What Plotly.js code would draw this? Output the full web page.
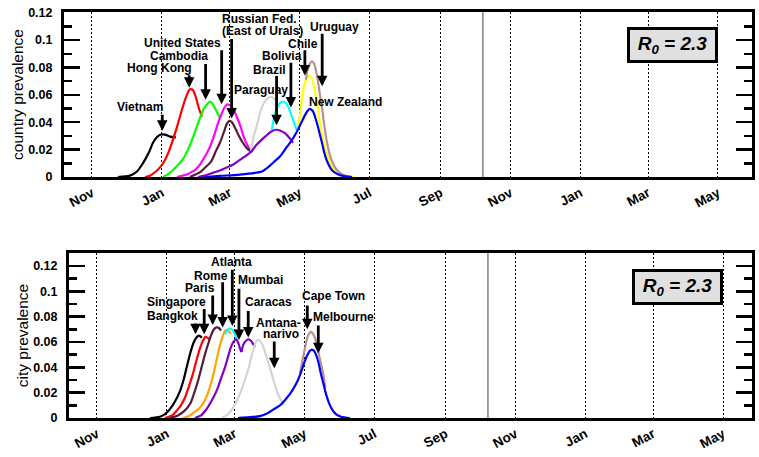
<!DOCTYPE html>
<html><head><meta charset="utf-8">
<script src="https://cdn.plot.ly/plotly-3.0.1.min.js"></script>
<style>html,body{margin:0;padding:0;background:#fff}#chart{width:759px;height:457px}</style>
</head><body><div id="chart"></div>
<script>
// x values are days since 1 Jan 2009, y values are prevalence
// ---- country prevalence (top panel) ----
const vietnamDays = [-38.4,-27.9,-21.8,-16.6,-11.3,-7.8,-4.4,-0.9,2.6,7.0,12.2];
const vietnamPrev = [0,0.001,0.004,0.010,0.018,0.025,0.029,0.031,0.031,0.0295,0.029];
const hongKongDays = [-14.8,-10.5,-5.2,-1.7,1.7,5.2,8.7,12.2,15.7,19.2,21.8,24.4,27.0,29.7,32.3,34.9];
const hongKongPrev = [0,0.001,0.004,0.007,0.011,0.017,0.025,0.034,0.044,0.054,0.060,0.064,0.0635,0.058,0.050,0.044];
const cambodiaDays = [0.9,7.0,13.1,18.3,22.7,26.2,29.7,33.1,36.6,39.2,41.9,44.5,47.1,50.6];
const cambodiaPrev = [0,0.003,0.008,0.013,0.020,0.027,0.035,0.043,0.050,0.053,0.055,0.053,0.049,0.043];
const usDays = [13.1,20.1,24.4,28.8,33.1,37.5,41.9,45.4,48.8,51.5,54.1,56.7,58.4,61.1,63.7,66.3,68.9,71.5,74.1,76.8,78.5];
const usPrev = [0,0.0015,0.003,0.005,0.009,0.015,0.022,0.030,0.039,0.045,0.050,0.053,0.0528,0.051,0.047,0.042,0.036,0.029,0.024,0.020,0.018];
const russiaDays = [24.4,29.7,34.0,38.4,42.7,47.1,50.6,54.1,56.7,58.9,61.1,63.7,67.2,70.6,74.1,78.5];
const russiaPrev = [0,0.002,0.004,0.0075,0.011,0.019,0.025,0.033,0.039,0.041,0.040,0.036,0.030,0.025,0.021,0.018];
const paraguayDays = [77.6,80.2,82.9,86.3,89.8,93.3,95.9,98.6];
const paraguayPrev = [0.019,0.030,0.038,0.049,0.055,0.058,0.0585,0.056];
const boliviaDays = [95.9,97.7,100.3,102.9,105.5,108.2,110.8,113.4,116.0,117.7];
const boliviaPrev = [0.034,0.043,0.050,0.054,0.055,0.054,0.050,0.044,0.038,0.034];
const brazilDays = [31.4,37.5,44.5,50.6,56.7,61.9,68.0,74.1,78.5,82.0,85.5,90.7,95.1,99.4,102.9,107.3,110.8,114.3];
const brazilPrev = [0,0.001,0.003,0.0048,0.007,0.009,0.0125,0.016,0.019,0.023,0.026,0.030,0.033,0.0345,0.034,0.032,0.029,0.025];
const chileDays = [118.6,120.4,122.1,123.9,125.6,127.3,129.1,130.8,132.6,134.3,136.1,137.8,139.6,141.3,143.0,144.8,147.4,150.9,155.3,161.4,168.3];
const chilePrev = [0.036,0.045,0.057,0.066,0.071,0.0735,0.074,0.072,0.066,0.059,0.050,0.039,0.031,0.024,0.018,0.0145,0.009,0.005,0.002,0.0006,0];
const uruguayDays = [125.6,127.3,129.1,130.8,132.6,134.3,136.1,137.8,139.6,141.3,143.0,144.8,146.5,149.1,151.8,155.3,159.6,165.7];
const uruguayPrev = [0.071,0.079,0.083,0.0845,0.083,0.078,0.070,0.060,0.051,0.040,0.030,0.022,0.016,0.010,0.006,0.003,0.001,0];
const newZealandDays = [37.5,50.6,68.0,81.1,87.2,92.5,97.7,102.9,109.0,113.4,117.7,121.2,124.7,127.3,129.1,131.7,134.3,136.9,139.6,142.2,144.8,148.3,153.5,159.6,165.7];
const newZealandPrev = [0,0.0008,0.0018,0.003,0.004,0.007,0.011,0.015,0.022,0.027,0.033,0.039,0.045,0.0485,0.0497,0.048,0.042,0.034,0.025,0.016,0.010,0.005,0.002,0.0005,0];

// ---- city prevalence (bottom panel) ----
const bangkokDays = [-14.8,-6.1,-1.7,2.6,7.0,11.3,14.8,18.3,20.9,23.5,26.2,27.9,30.5];
const bangkokPrev = [0,0.001,0.003,0.007,0.013,0.021,0.031,0.044,0.053,0.060,0.064,0.065,0.0635];
const singaporeDays = [-1.7,4.4,8.7,12.2,15.7,19.2,22.7,26.2,28.8,31.4,33.6,35.8,37.5];
const singaporePrev = [0,0.002,0.006,0.010,0.016,0.025,0.035,0.047,0.055,0.061,0.064,0.063,0.062];
const parisDays = [2.6,9.6,15.7,20.1,23.5,27.0,30.5,33.1,35.8,38.4,41.0,43.2,45.4,47.1];
const parisPrev = [0,0.002,0.006,0.011,0.019,0.029,0.041,0.050,0.058,0.065,0.070,0.0715,0.071,0.069];
const romeDays = [14.0,20.1,24.4,28.8,33.1,36.6,40.1,43.6,46.2,48.8,51.5,53.6,55.8];
const romePrev = [0,0.002,0.005,0.008,0.014,0.022,0.033,0.047,0.057,0.065,0.0694,0.069,0.0665];
const atlantaDays = [50.6,52.3,54.1,55.8,57.6,59.3,61.1];
const atlantaPrev = [0.066,0.069,0.0705,0.0705,0.069,0.066,0.061];
const mumbaiDays = [24.4,29.7,34.9,39.2,43.6,47.1,50.6,53.2,55.8,58.0,60.2,61.9,63.7,65.0];
const mumbaiPrev = [0,0.002,0.0075,0.014,0.022,0.031,0.040,0.048,0.056,0.060,0.062,0.060,0.055,0.052];
const caracasDays = [65.0,66.7,68.9,71.1,73.3,75.4,76.8];
const caracasPrev = [0.052,0.058,0.061,0.062,0.061,0.058,0.056];
const antananarivoDays = [48.0,53.2,57.6,61.1,64.5,68.0,71.5,74.1,76.8,78.9,81.1,83.7,86.3,89.0,91.6,94.2,96.8,99.4,102.0];
const antananarivoPrev = [0,0.003,0.008,0.014,0.021,0.030,0.040,0.050,0.058,0.0615,0.061,0.057,0.050,0.042,0.034,0.026,0.019,0.014,0.010];
const capeTownDays = [116.0,117.7,120.4,123.0,125.6,127.3,129.1,130.8,132.6,134.3,136.1,138.2];
const capeTownPrev = [0.035,0.043,0.055,0.065,0.068,0.0665,0.063,0.057,0.050,0.043,0.036,0.024];
const melbourneDays = [61.9,72.4,81.1,88.1,93.3,98.6,102.9,107.3,110.8,114.3,116.9,119.5,122.1,124.7,126.5,128.2,130.0,132.1,134.3,136.5,138.7,141.3,143.9,147.4,151.8,159.6];
const melbournePrev = [0,0.0007,0.0015,0.004,0.007,0.010,0.014,0.019,0.024,0.030,0.036,0.043,0.049,0.053,0.054,0.053,0.050,0.044,0.035,0.027,0.019,0.012,0.007,0.003,0.001,0];

// ---- axis ticks ----
const monthTicks = ['2008-11-01','2009-01-01','2009-03-01','2009-05-01','2009-07-01','2009-09-01','2009-11-01','2010-01-01','2010-03-01','2010-05-01'];
const monthLabels = ['Nov','Jan','Mar','May','Jul','Sep','Nov','Jan','Mar','May'];
const yearMarker = '2009-10-08';
const r0Text = '<b><i>R<sub>0</sub> = 2.3</i></b>';

const BASE = Date.UTC(2009,0,1);
function toDate(d){ return new Date(BASE + d*86400000).toISOString().slice(0,16).replace('T',' '); }

const LW = 2.2;
function line(days, prev, color, xa, ya, name){
  return {type:'scatter', mode:'lines', name:name, x:days.map(toDate), y:prev,
    xaxis:xa, yaxis:ya, line:{color:color, width:LW, shape:'spline', smoothing:0.8}, hoverinfo:'skip'};
}
const PURPLE = '#8000c8', MAROON = '#561a3c', GRAY = '#d4d4d4', ROSY = '#bc8f8f';
const traces = [
  line(vietnamDays, vietnamPrev, '#000000','x','y','Vietnam'),
  line(hongKongDays, hongKongPrev, '#ff0000','x','y','Hong Kong'),
  line(cambodiaDays, cambodiaPrev, '#00ff00','x','y','Cambodia'),
  line(usDays, usPrev, '#ff00ff','x','y','United States'),
  line(russiaDays, russiaPrev, MAROON,'x','y','Russian Fed.'),
  line(paraguayDays, paraguayPrev, GRAY,'x','y','Paraguay'),
  line(boliviaDays, boliviaPrev, '#00ffff','x','y','Bolivia'),
  line(brazilDays, brazilPrev, PURPLE,'x','y','Brazil'),
  line(chileDays, chilePrev, '#ffff00','x','y','Chile'),
  line(uruguayDays, uruguayPrev, ROSY,'x','y','Uruguay'),
  line(newZealandDays, newZealandPrev, '#0000ff','x','y','New Zealand'),
  line(bangkokDays, bangkokPrev, '#000000','x2','y2','Bangkok'),
  line(singaporeDays, singaporePrev, '#ff0000','x2','y2','Singapore'),
  line(parisDays, parisPrev, MAROON,'x2','y2','Paris'),
  line(romeDays, romePrev, '#ffa500','x2','y2','Rome'),
  line(atlantaDays, atlantaPrev, '#00ffff','x2','y2','Atlanta'),
  line(mumbaiDays, mumbaiPrev, PURPLE,'x2','y2','Mumbai'),
  line(caracasDays, caracasPrev, PURPLE,'x2','y2','Caracas'),
  line(antananarivoDays, antananarivoPrev, GRAY,'x2','y2','Antananarivo'),
  line(capeTownDays, capeTownPrev, ROSY,'x2','y2','Cape Town'),
  line(melbourneDays, melbournePrev, '#0000ff','x2','y2','Melbourne')
];

const FONT = 'Liberation Sans, Arial, Helvetica, sans-serif';
const labelFont = {family:FONT, size:12, color:'#000', weight:'bold'};

// label text positions [text, day, prevalence]
const topText = [
  ['Vietnam',-18.9,0.0509],['Hong Kong',-1.7,0.0795],['Cambodia',15.1,0.0882],
  ['United States',18.3,0.0977],['Russian Fed.',85.5,0.1154],['(East of Urals)',87.7,0.1069],
  ['Paraguay',86.2,0.0638],['Brazil',94.2,0.0778],['Bolivia',105.1,0.0887],
  ['Chile',123.4,0.0972],['Uruguay',150.3,0.1093],['New Zealand',160.5,0.0548]
];
// arrows [day, tail prevalence, head prevalence]
const topArrows = [
  [0.3,0.0465,0.0337],[23.8,0.0754,0.0652],[38.1,0.0836,0.0565],[52.1,0.0936,0.0531],
  [60.8,0.1018,0.0427],[100.0,0.0749,0.0378],[112.5,0.0846,0.0507],[124.7,0.0936,0.0742],
  [139.8,0.1057,0.0662]
];
const botText = [
  ['Singapore',8.1,0.0917],['Bangkok',4.8,0.0804],['Paris',29.2,0.1023],['Rome',38.6,0.1122],
  ['Atlanta',56.7,0.1232],['Mumbai',81.4,0.1088],['Caracas',88.8,0.0917],['Antana-',97.1,0.0747],
  ['narivo',99.3,0.0660],['Cape Town',145.5,0.0962],['Melbourne',154.4,0.0799]
];
const botArrows = [
  [24.9,0.0757,0.0660],[32.5,0.0871,0.0660],[39.9,0.0978,0.0733],[48.6,0.1083,0.0715],
  [57.0,0.1181,0.0726],[62.8,0.1031,0.0615],[70.9,0.0857,0.0636],[93.6,0.0615,0.0392],
  [122.4,0.0899,0.0700],[132.0,0.0741,0.0510]
];

const annotations = [];
function addText(list, xa, ya){
  list.forEach(t => annotations.push({x:toDate(t[1]), y:t[2], xref:xa, yref:ya, text:t[0],
    showarrow:false, font:labelFont, xanchor:'center', yanchor:'middle', borderpad:0}));
}
function addArrows(list, xa, ya){
  list.forEach(a => annotations.push({x:toDate(a[0]), y:a[2], ax:toDate(a[0]), ay:a[1],
    xref:xa, yref:ya, axref:xa, ayref:ya, text:'', showarrow:true, arrowhead:2,
    arrowsize:0.75, arrowwidth:2.8, arrowcolor:'#000', standoff:0, startstandoff:0}));
}
addText(topText,'x','y'); addArrows(topArrows,'x','y');
addText(botText,'x2','y2'); addArrows(botArrows,'x2','y2');
const r0Box = {text:r0Text, showarrow:false, font:{family:FONT, size:19, color:'#000'},
  bgcolor:'#e0e0e0', bordercolor:'#000', borderwidth:3, borderpad:1, width:83, height:28,
  xanchor:'center', yanchor:'middle'};
annotations.push(Object.assign({}, r0Box, {xref:'x domain', yref:'y domain', x:0.8845, y:0.8}));
annotations.push(Object.assign({}, r0Box, {xref:'x2 domain', yref:'y2 domain', x:0.891, y:0.796}));

const shapes = [
  {type:'line', xref:'x', yref:'y domain', x0:yearMarker, x1:yearMarker, y0:0, y1:1, line:{color:'#444', width:1}},
  {type:'line', xref:'x2', yref:'y2 domain', x0:yearMarker, x1:yearMarker, y0:0, y1:1, line:{color:'#444', width:1}}
];

const xCommon = {type:'date', tickmode:'array', tickvals:monthTicks, ticktext:monthLabels, tickangle:-28,
  tickfont:{family:FONT, size:13.5, color:'#000', weight:'bold'}, ticks:'', showgrid:true, gridcolor:'#000',
  griddash:'2px,2px', gridwidth:1, showline:true, linecolor:'#000', linewidth:3, mirror:true, zeroline:false};
const yCommon = {tickmode:'linear', tick0:0, dtick:0.02, ticks:'inside', ticklen:16, tickwidth:2.5, tickcolor:'#000',
  tickfont:{family:FONT, size:12.5, color:'#000', weight:'bold'}, showline:true, linecolor:'#000', linewidth:3,
  mirror:'allticks', showgrid:false, zeroline:false, ticklabelstandoff:6,
  minor:{dtick:0.01, tick0:0, ticks:'inside', ticklen:8, tickwidth:2.5, tickcolor:'#000', showgrid:false}};

const layout = {
  width:759, height:457, margin:{l:64, r:7, t:12, b:39},
  paper_bgcolor:'#fff', plot_bgcolor:'#fff', showlegend:false,
  font:{family:FONT, color:'#000'},
  xaxis:Object.assign({}, xCommon, {domain:[0,1], anchor:'y', range:['2008-10-07 14:00','2010-05-30 17:00']}),
  yaxis:Object.assign({}, yCommon, {domain:[0.5936,1], anchor:'x', range:[0,0.1205],
    title:{text:'country prevalence', font:{family:FONT, size:15.5, color:'#000'}, standoff:1}}),
  xaxis2:Object.assign({}, xCommon, {domain:[0.00727,1], anchor:'y2', range:['2008-10-07 14:00','2010-05-26 07:00']}),
  yaxis2:Object.assign({}, yCommon, {domain:[0,0.4064], anchor:'x2', range:[0,0.1302],
    title:{text:'city prevalence', font:{family:FONT, size:15.5, color:'#000'}, standoff:1}}),
  annotations:annotations, shapes:shapes
};
Plotly.newPlot('chart', traces, layout, {staticPlot:true, displayModeBar:false});
</script></body></html>
